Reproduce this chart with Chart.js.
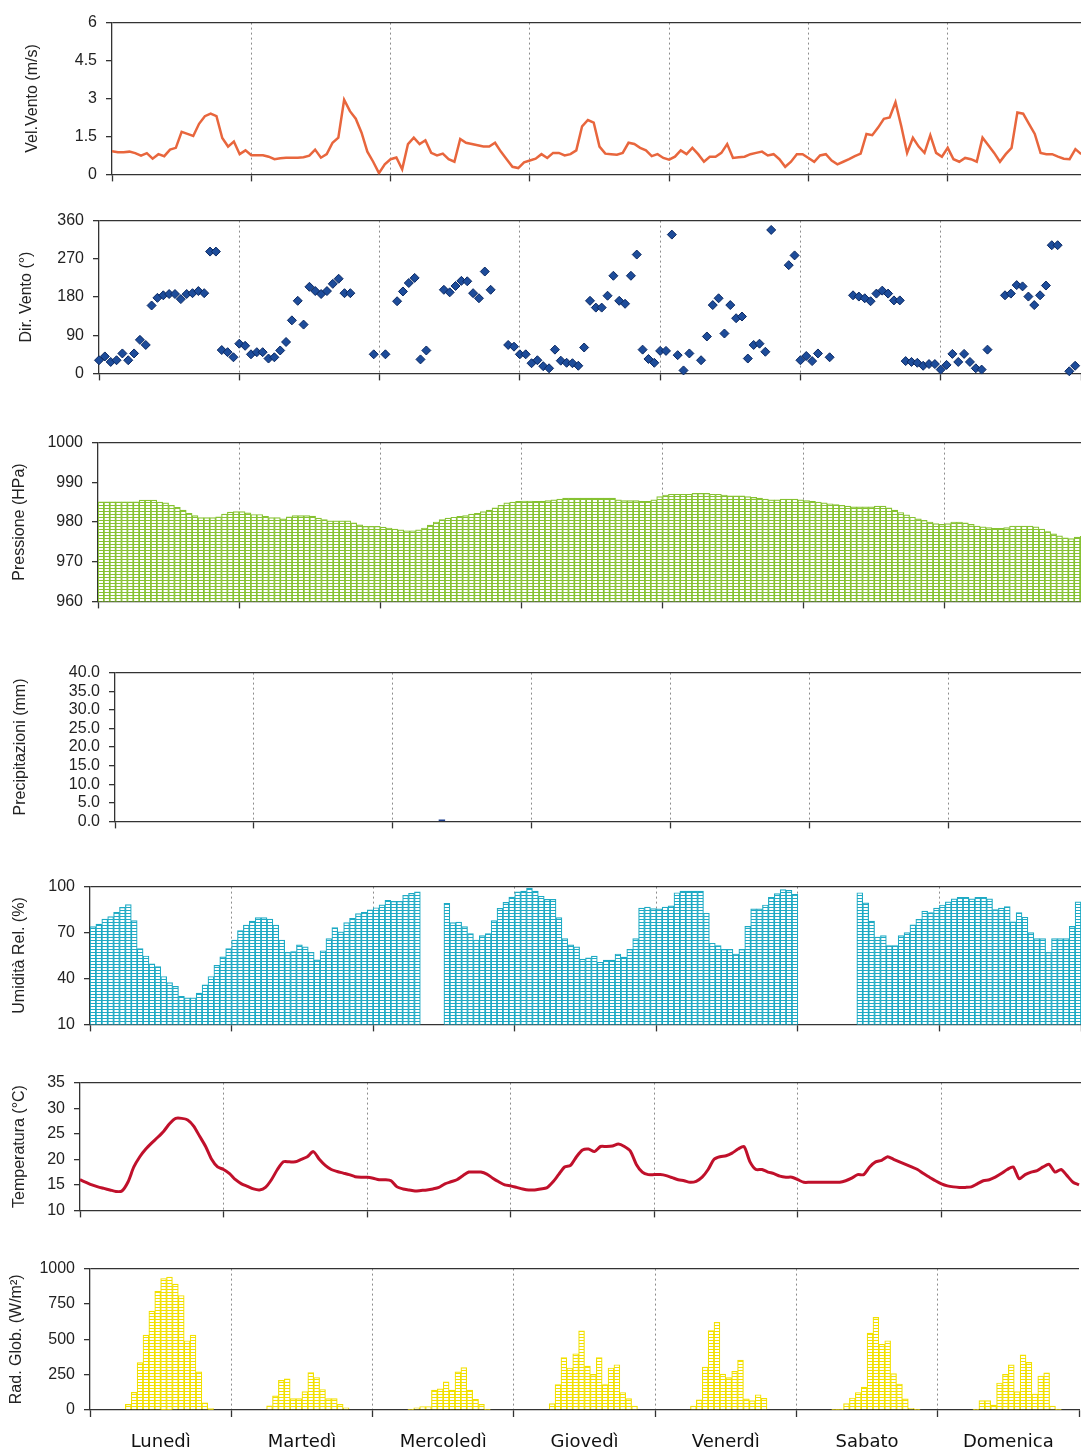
<!DOCTYPE html>
<html>
<head>
<meta charset="utf-8">
<script src="https://cdn.jsdelivr.net/npm/chart.js@4.4.0/dist/chart.umd.min.js"></script>
<style>
  html, body { margin: 0; padding: 0; background: #fff; width: 1081px; height: 1453px; overflow: hidden; }
  canvas { position: absolute; left: 0; }
</style>
</head>
<body>
<canvas id="wind"></canvas>
<canvas id="dir"></canvas>
<canvas id="press"></canvas>
<canvas id="rain"></canvas>
<canvas id="hum"></canvas>
<canvas id="temp"></canvas>
<canvas id="rad"></canvas>
<script>
const days = ['Lunedì', 'Martedì', 'Mercoledì', 'Giovedì', 'Venerdì', 'Sabato', 'Domenica'];

// hourly values, one line per day (Lunedì ... Domenica)
const windSpeed = [
  0.92,0.88,0.88,0.9,0.84,0.74,0.84,0.62,0.8,0.72,0.98,1.05,1.68,1.6,1.52,2.0,2.3,2.4,2.3,1.44,1.1,1.3,0.8,0.95,
  0.76,0.76,0.76,0.7,0.6,0.64,0.66,0.66,0.66,0.68,0.74,0.98,0.66,0.8,1.25,1.45,2.95,2.5,2.2,1.65,0.9,0.5,0.05,0.4,
  0.6,0.67,0.2,1.2,1.45,1.2,1.35,0.85,0.75,0.82,0.6,0.5,1.4,1.25,1.2,1.15,1.1,1.1,1.25,0.9,0.6,0.3,0.25,0.48,
  0.55,0.62,0.8,0.65,0.85,0.85,0.75,0.8,0.95,1.9,2.15,2.05,1.1,0.82,0.8,0.78,0.85,1.25,1.2,1.05,0.95,0.72,0.8,0.65,
  0.58,0.7,0.95,0.8,1.05,0.8,0.5,0.7,0.7,0.85,1.2,0.65,0.68,0.7,0.8,0.85,0.9,0.75,0.8,0.6,0.3,0.5,0.8,0.8,
  0.65,0.5,0.75,0.8,0.55,0.4,0.5,0.6,0.72,0.82,1.6,1.55,1.85,2.2,2.25,2.85,1.9,0.85,1.45,1.1,0.85,1.55,0.85,0.7,
  1.05,0.6,0.5,0.65,0.6,0.5,1.45,1.15,0.85,0.5,0.8,1.05,2.45,2.4,2.0,1.6,0.85,0.8,0.8,0.7,0.62,0.6,1.0,0.8
];

const windDir = [
  31,40,27,31,47,31,47,79,67,160,178,184,187,187,175,187,189,194,189,287,287,55,50,38,
  70,65,45,50,50,35,38,54,74,125,171,115,204,194,187,194,211,223,189,189,null,null,null,45,
  null,45,null,170,193,213,225,33,54,null,null,197,191,206,218,217,189,177,240,197,null,null,67,63,
  45,45,24,31,17,12,56,30,25,24,18,61,171,155,155,183,230,171,164,230,280,56,34,25,
  53,53,327,43,7,47,null,31,87,161,177,94,161,130,134,35,67,70,51,338,null,null,255,278,
  31,41,29,47,null,38,null,null,null,184,181,177,170,188,195,188,172,172,29,27,25,18,22,22,
  9,20,46,27,46,27,12,9,56,null,null,184,188,208,205,181,161,184,207,302,302,null,5,18
];

const pressure = [
  985.1,985.1,985.1,985.1,985.1,985.1,985.1,985.5,985.5,985.5,985.0,984.8,984.2,983.7,983.0,982.2,981.6,981.1,981.1,981.1,981.3,982.0,982.5,982.6,
  982.6,982.3,981.9,981.9,981.4,981.1,981.1,980.8,981.3,981.6,981.6,981.6,981.5,981.0,980.6,980.3,980.3,980.3,980.3,979.8,979.3,978.9,978.9,978.9,
  978.7,978.5,978.2,978.0,977.8,977.8,978.0,978.5,979.2,980.0,980.6,981.0,981.2,981.4,981.6,982.0,982.2,982.6,983.0,983.6,984.2,984.8,985.0,985.2,
  985.3,985.3,985.2,985.2,985.4,985.6,985.8,986.0,986.0,986.0,986.0,986.0,986.0,986.0,986.0,986.0,985.6,985.4,985.4,985.4,985.2,985.2,985.6,986.4,
  986.8,987.0,987.0,987.0,987.0,987.2,987.2,987.2,987.0,987.0,986.8,986.6,986.6,986.6,986.4,986.2,986.0,985.8,985.6,985.6,985.8,985.8,985.8,985.6,
  985.4,985.2,985.0,984.8,984.6,984.4,984.2,984.0,983.8,983.8,983.8,983.8,984.0,984.0,983.6,983.0,982.4,981.8,981.2,980.8,980.4,980.0,979.6,979.4,
  979.6,980.0,980.0,979.8,979.4,979.0,978.8,978.6,978.4,978.4,978.6,979.0,979.0,979.0,979.0,978.8,978.2,977.6,977.0,976.5,976.0,975.8,976.2,976.4
];

const rain = [
  0,0,0,0,0,0,0,0,0,0,0,0,0,0,0,0,0,0,0,0,0,0,0,0,
  0,0,0,0,0,0,0,0,0,0,0,0,0,0,0,0,0,0,0,0,0,0,0,0,
  0,0,0,0,0,0,0,0,0.4,0,0,0,0,0,0,0,0,0,0,0,0,0,0,0,
  0,0,0,0,0,0,0,0,0,0,0,0,0,0,0,0,0,0,0,0,0,0,0,0,
  0,0,0,0,0,0,0,0,0,0,0,0,0,0,0,0,0,0,0,0,0,0,0,0,
  0,0,0,0,0,0,0,0,0,0,0,0,0,0,0,0,0,0,0,0,0,0,0,0,
  0,0,0,0,0,0,0,0,0,0,0,0,0,0,0,0,0,0,0,0,0,0,0,0
];

const humidity = [
  73.9,75.5,78.8,80.4,83.2,86.4,88.3,77.8,59.6,54.7,49.6,47.8,41.3,37.3,34.9,28.4,27.4,27.4,30.4,35.9,41.3,48.6,54.1,59.5,
  65.0,71.3,74.9,77.4,79.8,79.8,78.8,74.9,65.0,57.1,57.5,62.0,60.6,57.1,52.1,58.1,66.0,73.3,70.5,76.5,79.2,82.4,83.2,84.8,
  86.2,88.1,91.1,90.3,90.3,94.3,95.6,96.6,null,null,null,null,89.1,76.5,76.9,73.9,69.3,65.0,68.0,69.3,77.8,85.8,89.7,93.1,
  96.6,97.0,99.0,97.0,93.7,91.7,91.7,79.8,66.0,62.0,60.6,52.6,53.4,54.6,50.6,52.0,52.0,56.0,54.0,59.0,66.0,86.0,86.6,85.6,
  85.4,86.6,87.4,96.0,97.0,97.0,97.0,97.0,82.6,63.0,61.4,59.0,59.0,56.0,59.0,74.0,85.4,85.4,88.0,93.0,95.4,98.0,97.5,95.0,
  null,null,null,null,null,null,null,null,null,null,96,89.4,77.4,67,68,61.4,61.4,68,70,75,78.6,84,83,86,
  88,90,92,93,93,92,93,93,92,85,86,87,77,83,80,70,66,66,57,66,66,66,74,90
];

const temperature = [
  16,15.5,15,14.6,14.3,14,13.7,13.8,15.5,18.5,20.5,22,23.2,24.3,25.5,27,28,28,27.7,26.5,24.5,22.5,20,18.5,
  18,17.2,16,15.2,14.7,14.2,14,14.5,16,18,19.5,19.5,19.5,20,20.5,21.5,20,18.8,18,17.6,17.3,17,16.6,16.5,
  16.5,16.3,16,16,15.8,14.6,14.2,14,13.8,13.9,14,14.2,14.5,15.2,15.6,16,16.8,17.5,17.5,17.5,17.1,16.3,15.6,15,
  14.8,14.5,14.2,14,14,14.2,14.4,15.5,17,18.5,18.8,20.5,21.8,22,21.5,22.5,22.5,22.6,23,22.5,21.6,19,17.5,17,
  17,17,16.8,16.4,16,15.8,15.5,15.7,16.5,18,20,20.5,20.7,21.2,22,22.5,19.5,18,18,17.5,17.2,16.7,16.5,16.5,
  16,15.5,15.5,15.5,15.5,15.5,15.5,15.5,15.8,16.3,17,17,18.5,19.5,19.8,20.5,20,19.5,19,18.5,18,17.2,16.5,15.8,
  15.2,14.8,14.6,14.5,14.5,14.6,15.2,15.8,16,16.5,17.2,18,18.5,16.2,17,17.5,17.8,18.5,19,17.5,18,16.8,15.5,15
];

const radiation = [
  0,0,0,0,0,0,40,125,335,530,700,840,930,940,890,810,490,530,270,50,10,0,0,0,
  0,0,0,0,0,0,30,100,210,220,80,80,130,265,230,145,80,80,40,15,0,0,0,0,
  0,0,0,0,0,0,5,15,25,25,140,150,200,140,270,300,140,75,40,5,0,0,0,0,
  0,0,0,0,0,0,45,180,370,297,398,560,310,252,370,180,297,320,124,80,27,0,0,0,
  0,0,0,0,0,0,27,72,303,562,620,254,229,274,353,79,67,108,83,0,0,0,0,0,
  0,0,0,0,0,0,5,5,45,85,124,162,544,655,465,490,258,184,79,11,5,0,0,0,
  0,0,0,0,0,0,5,67,67,34,191,252,319,130,390,337,112,240,263,27,5,0,0,0
];

const HOURS = 168;
const LABEL_PAD = 15;
const pts = (arr, off) => arr.map((v, i) => ({ x: i + off, y: v === 0 && off ? null : v }));

// striped fill like the printed bars
function ladder(color) {
  const c = document.createElement('canvas');
  c.width = 1; c.height = 3;
  const g = c.getContext('2d');
  g.fillStyle = '#ffffff';
  g.fillRect(0, 0, 1, 3);
  g.fillStyle = color;
  g.fillRect(0, 0, 1, 1);
  return g.createPattern(c, 'repeat');
}

const tickFont = { family: 'Liberation Sans, Arial, sans-serif', size: 16 };

function xScale(p, showDays) {
  return {
    type: 'linear', min: 0, max: HOURS, offset: false,
    afterBuildTicks: s => { s.ticks = Array.from({ length: 15 }, (_, i) => ({ value: i * 12 })); },
    afterFit: s => { s.height = p.xh; },
    border: { display: true, color: '#333', width: 1.3, dash: [2, 3] },
    grid: {
      offset: false, lineWidth: 1,
      color: c => (c.tick && c.tick.value % 24 === 0 && c.tick.value > 0 && c.tick.value < HOURS) ? '#8c8c8c' : 'rgba(0,0,0,0)',
      tickColor: c => (c.tick && c.tick.value % 24 === 0) ? '#333' : 'rgba(0,0,0,0)',
      tickLength: 7, tickBorderDash: [], tickWidth: 1.3
    },
    ticks: {
      display: showDays, autoSkip: false, maxRotation: 0, minRotation: 0, padding: LABEL_PAD,
      color: '#111', font: { family: 'DejaVu Sans, sans-serif', size: 18 },
      callback: v => (v % 24 === 12 ? days[(v - 12) / 24] : '')
    }
  };
}

function yScale(p, min, max, step, title, fmt) {
  return {
    min: min, max: max,
    afterBuildTicks: s => {
      const t = [];
      for (let v = min; v <= max + 1e-9; v += step) t.push({ value: v });
      s.ticks = t;
    },
    afterFit: s => { s.width = p.left; },
    border: { display: true, color: '#333', width: 1.3 },
    grid: {
      lineWidth: 1.3,
      color: c => (c.tick && Math.abs(c.tick.value - max) < 1e-9) ? '#333' : 'rgba(0,0,0,0)',
      tickColor: '#333', tickLength: 6
    },
    ticks: { autoSkip: false, padding: 9, color: '#222', font: tickFont, callback: fmt },
    title: {
      display: true, text: title, color: '#222', font: tickFont,
      padding: { top: p.titlePad, bottom: 0 }
    }
  };
}

function panel(id, p, type, datasets, yOpts, showDays) {
  const cv = document.getElementById(id);
  const padTop = 12;
  // the day labels reserve their padding on the right, so widen that canvas
  cv.width = Math.round(p.left + 7 * p.dayW + (showDays ? LABEL_PAD : 0));
  cv.height = padTop + (p.bottom - p.top) + p.xh;
  cv.style.top = (p.top - padTop) + 'px';
  return new Chart(cv, {
    type: type,
    data: { datasets: datasets },
    options: {
      responsive: false, animation: false,
      layout: { autoPadding: false, padding: { top: padTop, left: 0, right: 0, bottom: 0 } },
      plugins: { legend: { display: false }, tooltip: { enabled: false } },
      scales: { x: xScale(p, showDays), y: yOpts }
    }
  });
}

const barStyle = color => ({
  backgroundColor: ladder(color), borderColor: color, borderWidth: 1.2,
  borderSkipped: 'start', barPercentage: 1, categoryPercentage: 1
});

// Velocità vento
const pW = { left: 112, top: 16, bottom: 181, dayW: 139.3, xh: 12, titlePad: 23 };
panel('wind', pW, 'line', [{
  data: pts(windSpeed, 0), borderColor: '#e8663d', borderWidth: 2.5, pointRadius: 0, tension: 0
}], yScale(pW, 0, 6, 1.5, 'Vel.Vento (m/s)', v => String(v)), false);

// Direzione vento
const pD = { left: 99, top: 214, bottom: 380, dayW: 140.3, xh: 12, titlePad: 17 };
panel('dir', pD, 'scatter', [{
  data: pts(windDir, 0), showLine: false, pointStyle: 'rectRot', pointRadius: 4.5,
  backgroundColor: '#1d4c9a', borderColor: '#0a2862', borderWidth: 1, clip: false
}], yScale(pD, 0, 360, 90, 'Dir. Vento (°)', v => String(v)), false);

// Pressione
const pP = { left: 98, top: 436, bottom: 608, dayW: 141.2, xh: 12, titlePad: 10 };
panel('press', pP, 'bar', [Object.assign({ data: pts(pressure, 0.5) }, barStyle('#86c232'))],
  yScale(pP, 960, 1000, 10, 'Pressione (HPa)', v => String(v)), false);

// Precipitazioni
const pR = { left: 115, top: 666, bottom: 828, dayW: 138.8, xh: 12, titlePad: 11 };
panel('rain', pR, 'bar', [{
  data: pts(rain, 0.5), backgroundColor: '#1d3f8f', borderWidth: 0, barPercentage: 1, categoryPercentage: 1
}], yScale(pR, 0, 40, 5, 'Precipitazioni (mm)', v => v.toFixed(1)), false);

// Umidità
const pH = { left: 90, top: 880, bottom: 1031, dayW: 141.5, xh: 12, titlePad: 10 };
panel('hum', pH, 'bar', [Object.assign({ data: pts(humidity, 0.5) }, barStyle('#1eaac4'))],
  yScale(pH, 10, 100, 30, 'Umidità Rel. (%)', v => String(v)), false);

// Temperatura
const pT = { left: 80, top: 1076, bottom: 1217, dayW: 143.5, xh: 12, titlePad: 10 };
panel('temp', pT, 'line', [{
  data: pts(temperature, 0), borderColor: '#c0102b', borderWidth: 3, pointRadius: 0, tension: 0.25
}], yScale(pT, 10, 35, 5, 'Temperatura (°C)', v => String(v)), false);

// Radiazione globale
const pG = { left: 90, top: 1262, bottom: 1410, dayW: 141.3, xh: 43, titlePad: 7 };
panel('rad', pG, 'bar', [Object.assign({ data: pts(radiation, 0.5) }, barStyle('#f2e000'))],
  yScale(pG, 0, 1000, 250, 'Rad. Glob. (W/m²)', v => String(v)), true);
</script>
</body>
</html>
